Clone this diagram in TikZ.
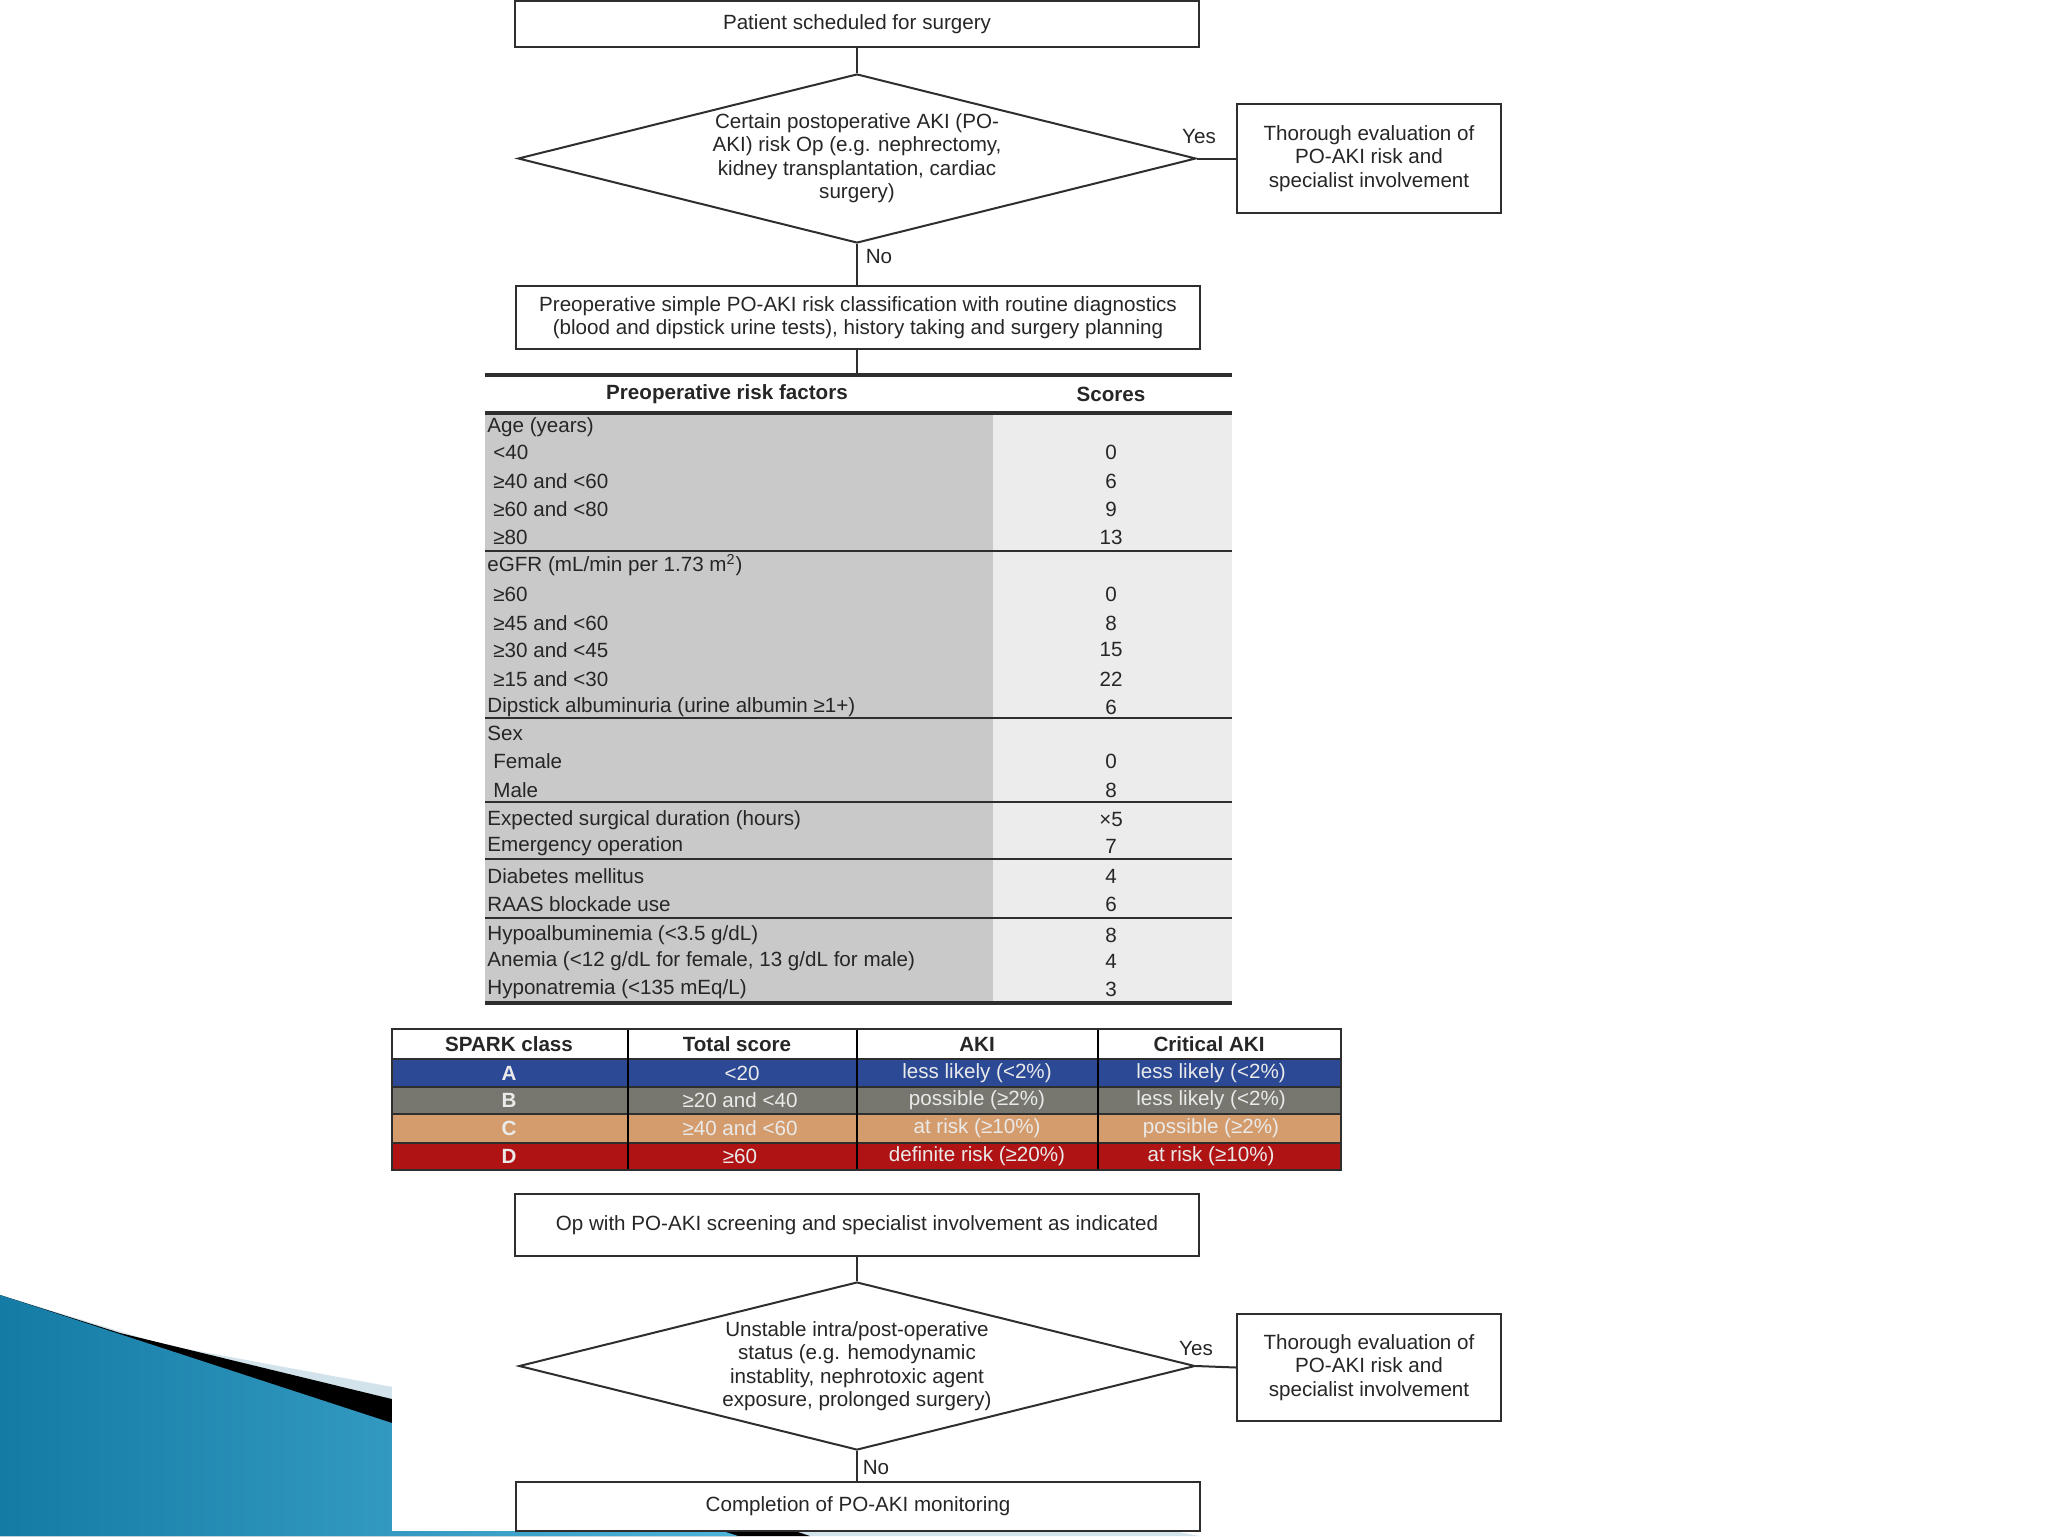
\documentclass[tikz,border=0pt]{standalone}
\usepackage{fontspec}
\setmainfont{Liberation Sans}
\usetikzlibrary{shapes.geometric}
\definecolor{linec}{HTML}{2E2E2E}
\definecolor{textc}{HTML}{262626}
\definecolor{shadeL}{HTML}{C9C9C9}
\definecolor{shadeR}{HTML}{ECECEC}
\definecolor{sparkA}{HTML}{2B4994}
\definecolor{sparkB}{HTML}{77776F}
\definecolor{sparkC}{HTML}{D49C6C}
\definecolor{sparkD}{HTML}{B01313}
\definecolor{rowtext}{HTML}{EAEAEA}
\definecolor{wedgeL}{HTML}{147BA5}
\definecolor{wedgeR}{HTML}{4DB3D8}
\definecolor{wedgeLight}{HTML}{D2E3EB}
\tikzset{
  box/.style={draw=linec, line width=1pt, fill=white, align=center, inner sep=0pt, text=textc},
  dia/.style={draw=linec, line width=1pt, diamond, inner sep=0pt, fill=white},
  lbl/.style={text=textc, inner sep=0pt, align=center},
  conn/.style={draw=linec, line width=1pt},
  rowl/.style={text=textc, inner sep=0pt, anchor=west},
  rows/.style={text=textc, inner sep=0pt},
  tline/.style={draw=linec, line width=1pt},
  tthick/.style={draw=linec, line width=1.6pt},
  sp/.style={text=rowtext, inner sep=0pt},
  sph/.style={text=textc, inner sep=0pt, font=\fontsize{10.3}{11.75}\selectfont\bfseries},
}
\begin{document}
\begin{tikzpicture}[x=0.5pt,y=-0.5pt, font=\fontsize{10.3}{11.75}\selectfont]
\useasboundingbox (0,0) rectangle (2048,1536);
\fill[white] (0,0) rectangle (2048,1536);
% decorative wedge of the slide
\fill[wedgeLight] (0,1295) -- (165,1345) -- (1200,1536) -- (0,1536) -- cycle;
\fill[black] (0,1295) -- (120,1333) -- (400,1401) -- (810,1536) -- (0,1536) -- cycle;
\shade[left color=wedgeL, right color=wedgeR] (0,1295) -- (738,1536) -- (0,1536) -- cycle;
% image area
\fill[white] (392,0) rectangle (1560,1531);

% ---------- top flow ----------
\node[box, minimum width=342pt, minimum height=23pt] (start) at (857,24) {Patient scheduled for surgery};
\node[dia, minimum width=339pt, minimum height=84.5pt] (d1) at (857,158.5) {};
\node[lbl] (d1t) at (857,158) {Certain postoperative AKI (PO-\\AKI) risk Op (e.g. nephrectomy,\\kidney transplantation, cardiac\\surgery)};
\node[box, minimum width=132pt, minimum height=54.5pt] (yes1) at (1369,158.5) {Thorough evaluation of\\PO-AKI risk and\\specialist involvement};
\node[box, minimum width=342pt, minimum height=31.5pt] (box2) at (858,317.5) {Preoperative simple PO-AKI risk classification with routine diagnostics\\(blood and dipstick urine tests), history taking and surgery planning};
\coordinate (tabtop) at (857,375);

\draw[conn] (start.south) -- (d1.north);
\draw[conn] (d1.east) -- (yes1.west);
\draw[conn] (d1.south) -- (d1.south |- box2.north);
\draw[conn] (box2.south -| tabtop) -- (tabtop);
\node[lbl] (yl1) at (1199,137) {Yes};
\node[lbl] (nl1) at (879,257) {No};

% ---------- risk factor table ----------
\fill[shadeL] (485,413) rectangle (993,1003);
\fill[shadeR] (993,413) rectangle (1232,1003);
\draw[tthick] (485,375) -- (1232,375);
\draw[tthick] (485,413) -- (1232,413);
\foreach \yy in {551,718,802,859,918} \draw[tline] (485,\yy) -- (1232,\yy);
\draw[tthick] (485,1003) -- (1232,1003);
\node[rows, font=\fontsize{10.3}{11.75}\selectfont\bfseries] (hrf) at (727,394) {Preoperative risk factors};
\node[rows, font=\fontsize{10.3}{11.75}\selectfont\bfseries] (hsc) at (1111,394) {Scores};

\node[rowl] (r1) at (487,427) {Age (years)};
\node[rowl] (r2) at (493,452) {<40};            \node[rows] (s2) at (1111,452) {0};
\node[rowl] (r3) at (493,481) {≥40 and <60};    \node[rows] (s3) at (1111,481) {6};
\node[rowl] (r4) at (493,509) {≥60 and <80};    \node[rows] (s4) at (1111,509) {9};
\node[rowl] (r5) at (493,537) {≥80};            \node[rows] (s5) at (1111,537) {13};
\node[rowl] (r6) at (487,565) {eGFR (mL/min per 1.73 m\textsuperscript{2})};
\node[rowl] (r7) at (493,594) {≥60};            \node[rows] (s7) at (1111,594) {0};
\node[rowl] (r8) at (493,623) {≥45 and <60};    \node[rows] (s8) at (1111,623) {8};
\node[rowl] (r9) at (493,650) {≥30 and <45};    \node[rows] (s9) at (1111,650) {15};
\node[rowl] (r10) at (493,679) {≥15 and <30};   \node[rows] (s10) at (1111,679) {22};
\node[rowl] (r11) at (487,707) {Dipstick albuminuria (urine albumin ≥1+)}; \node[rows] (s11) at (1111,707) {6};
\node[rowl] (r12) at (487,733) {Sex};
\node[rowl] (r13) at (493,761) {Female};        \node[rows] (s13) at (1111,761) {0};
\node[rowl] (r14) at (493,790) {Male};          \node[rows] (s14) at (1111,790) {8};
\node[rowl] (r15) at (487,820) {Expected surgical duration (hours)}; \node[rows] (s15) at (1111,820) {×5};
\node[rowl] (r16) at (487,846) {Emergency operation}; \node[rows] (s16) at (1111,846) {7};
\node[rowl] (r17) at (487,876) {Diabetes mellitus}; \node[rows] (s17) at (1111,876) {4};
\node[rowl] (r18) at (487,904) {RAAS blockade use}; \node[rows] (s18) at (1111,904) {6};
\node[rowl] (r19) at (487,935) {Hypoalbuminemia (<3.5 g/dL)}; \node[rows] (s19) at (1111,935) {8};
\node[rowl] (r20) at (487,961) {Anemia (<12 g/dL for female, 13 g/dL for male)}; \node[rows] (s20) at (1111,961) {4};
\node[rowl] (r21) at (487,989) {Hyponatremia (<135 mEq/L)}; \node[rows] (s21) at (1111,989) {3};

% ---------- SPARK table ----------
\fill[white] (392,1029) rectangle (1341,1059);
\fill[sparkA] (392,1059) rectangle (1341,1087);
\fill[sparkB] (392,1087) rectangle (1341,1114);
\fill[sparkC] (392,1114) rectangle (1341,1143);
\fill[sparkD] (392,1143) rectangle (1341,1170);
\foreach \yy in {1059,1087,1114,1143} \draw[draw=linec, line width=0.8pt] (392,\yy) -- (1341,\yy);
\foreach \xx in {628,857,1098} \draw[draw=black, line width=0.9pt] (\xx,1029) -- (\xx,1170);
\draw[draw=linec, line width=1pt] (392,1029) rectangle (1341,1170);

\node[sph] (hA) at (509,1044) {SPARK class};
\node[sph] (hB) at (737,1044) {Total score};
\node[sph] (hC) at (977,1044) {AKI};
\node[sph] (hD) at (1209,1044) {Critical AKI};

\node[sp, font=\fontsize{10.3}{11.75}\selectfont\bfseries] (a1) at (509,1073) {A};
\node[sp] (a2) at (742,1073) {<20};
\node[sp] (a3) at (977,1073) {less likely (<2\%)};
\node[sp] (a4) at (1211,1073) {less likely (<2\%)};
\node[sp, font=\fontsize{10.3}{11.75}\selectfont\bfseries] (b1) at (509,1100) {B};
\node[sp] (b2) at (740,1100) {≥20 and <40};
\node[sp] (b3) at (977,1100) {possible (≥2\%)};
\node[sp] (b4) at (1211,1100) {less likely (<2\%)};
\node[sp, font=\fontsize{10.3}{11.75}\selectfont\bfseries] (c1) at (509,1128) {C};
\node[sp] (c2) at (740,1128) {≥40 and <60};
\node[sp] (c3) at (977,1128) {at risk (≥10\%)};
\node[sp] (c4) at (1211,1128) {possible (≥2\%)};
\node[sp, font=\fontsize{10.3}{11.75}\selectfont\bfseries] (e1) at (509,1156) {D};
\node[sp] (e2) at (740,1156) {≥60};
\node[sp] (e3) at (977,1156) {definite risk (≥20\%)};
\node[sp] (e4) at (1211,1156) {at risk (≥10\%)};

% ---------- bottom flow ----------
\node[box, minimum width=342pt, minimum height=31pt] (box3) at (857,1225) {Op with PO-AKI screening and specialist involvement as indicated};
\node[dia, minimum width=338pt, minimum height=84pt] (d2) at (857,1366) {};
\node[lbl] (d2t) at (857,1366) {Unstable intra/post-operative\\status (e.g. hemodynamic\\instablity, nephrotoxic agent\\exposure, prolonged surgery)};
\node[box, minimum width=132pt, minimum height=53.5pt] (yes2) at (1369,1367.5) {Thorough evaluation of\\PO-AKI risk and\\specialist involvement};
\node[box, minimum width=342pt, minimum height=24.5pt] (box4) at (858,1506.5) {Completion of PO-AKI monitoring};

\draw[conn] (box3.south) -- (d2.north);
\draw[conn] (d2.east) -- (yes2.west);
\draw[conn] (d2.south) -- (d2.south |- box4.north);
\node[lbl] (yl2) at (1196,1348) {Yes};
\node[lbl] (nl2) at (876,1467) {No};
\end{tikzpicture}
\end{document}
